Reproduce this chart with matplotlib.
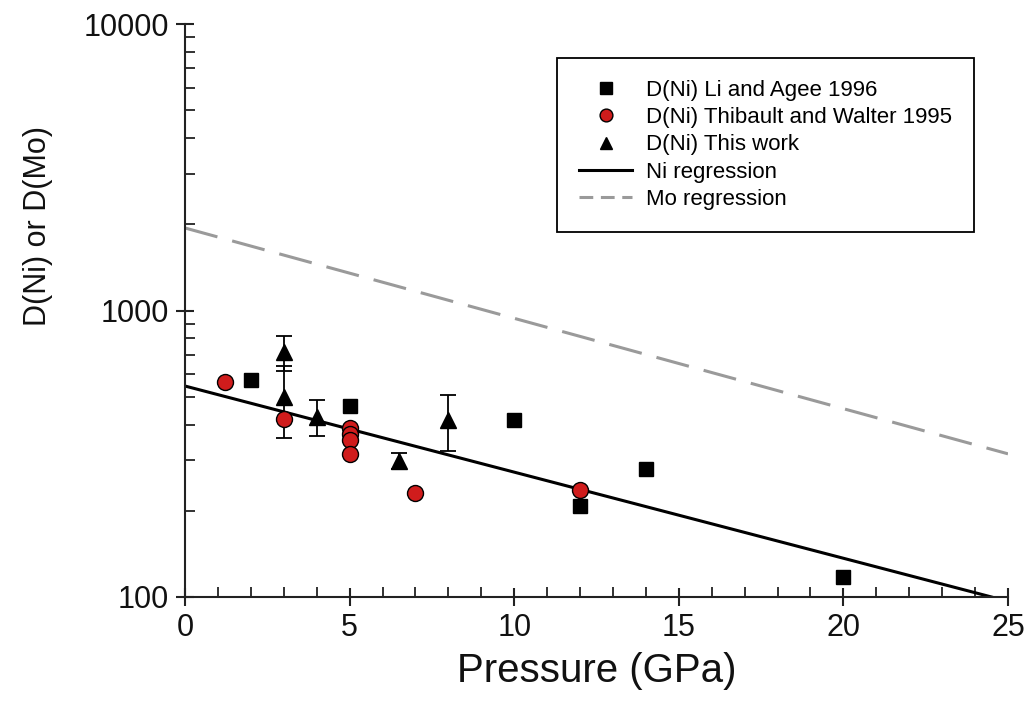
import matplotlib
matplotlib.use("Agg")
import matplotlib.pyplot as plt
from matplotlib.ticker import MultipleLocator, LogLocator, NullFormatter, FixedLocator, FixedFormatter

plt.rcParams['font.family'] = ['Liberation Sans', 'DejaVu Sans']

# Li and Agee 1996
li_p = [2, 5, 10, 12, 14, 20]
li_d = [572, 465, 415, 208, 279, 117]

# Thibault and Walter 1995
tw_p = [1.2, 3, 5, 5, 5, 5, 7, 12]
tw_d = [564, 418, 388, 370, 352, 315, 231, 236]

# this work
tw2_p = [3, 3, 4, 6.5, 8]
tw2_d = [715, 500, 426, 299, 415]
tw2_err = [100, 140, 61, 20, 92]

# regression end points
ni_reg_p = [0, 24.5]
ni_reg_d = [545, 100]
mo_reg_p = [0, 25]
mo_reg_d = [1941, 316]

xticks = [0, 5, 10, 15, 20, 25]
yticks = [100, 1000, 10000]
ytick_labels = ['100', '1000', '10000']

fig = plt.figure(figsize=(10.29, 7.26), dpi=100)
ax = fig.add_axes([185/1029, 1-597/726, 823/1029, 573/726])

ax.plot(ni_reg_p, ni_reg_d, color='black', lw=2.2, label='Ni regression', zorder=2)
ax.plot(mo_reg_p, mo_reg_d, color='#9a9a9a', lw=2.2, dashes=(11, 5), label='Mo regression', zorder=2)

ax.errorbar(tw2_p, tw2_d, yerr=tw2_err, fmt='none', ecolor='black', elinewidth=1.3,
            capsize=6, capthick=1.3, zorder=3)

ax.plot(li_p, li_d, 's', color='black', ms=10, mec='black', zorder=4,
        label='D(Ni) Li and Agee 1996')
ax.plot(tw_p, tw_d, 'o', color='#d01c1c', ms=11.5, mec='black', mew=1.0, zorder=4,
        label='D(Ni) Thibault and Walter 1995')
ax.plot(tw2_p, tw2_d, '^', color='black', ms=11, zorder=5,
        label='D(Ni) This work')

ax.set_yscale('log')
ax.set_xlim(0, 25)
ax.set_ylim(100, 10000)

ax.xaxis.set_major_locator(FixedLocator(xticks))
ax.xaxis.set_minor_locator(MultipleLocator(1))
ax.yaxis.set_major_locator(FixedLocator(yticks))
ax.yaxis.set_major_formatter(FixedFormatter(ytick_labels))
ax.yaxis.set_minor_locator(LogLocator(base=10, subs=range(2, 10)))
ax.yaxis.set_minor_formatter(NullFormatter())

for s in ['top', 'right']:
    ax.spines[s].set_visible(False)
for s in ['left', 'bottom']:
    ax.spines[s].set_linewidth(1.5)
    ax.spines[s].set_color('#222222')

ax.tick_params(which='major', direction='inout', length=13, width=1.5, labelsize=22,
               pad=5, color='#222222', labelcolor='#111111')
ax.tick_params(which='minor', direction='in', length=7, width=1.3, color='#222222')

ax.set_xlabel('Pressure (GPa)', fontsize=29, color='#111111')
ax.set_ylabel('D(Ni) or D(Mo)', fontsize=22, color='#111111')
ax.xaxis.set_label_coords(0.5, -0.096)
ax.yaxis.set_label_coords(-0.16, 0.647)

handles, labels = ax.get_legend_handles_labels()
order = [2, 3, 4, 0, 1]
leg = ax.legend([handles[i] for i in order], [labels[i] for i in order],
                loc='upper right', bbox_to_anchor=(0.9587, 0.941), borderaxespad=0,
                fontsize=16, fancybox=False, edgecolor='black', framealpha=1,
                labelspacing=0.28, handlelength=2.4, handletextpad=0.6,
                borderpad=1.0, markerscale=0.8)
leg.get_frame().set_linewidth(1.3)
leg.get_lines()[4].set_dashes((4.5, 2.5))

fig.savefig('out.png', dpi=100)
